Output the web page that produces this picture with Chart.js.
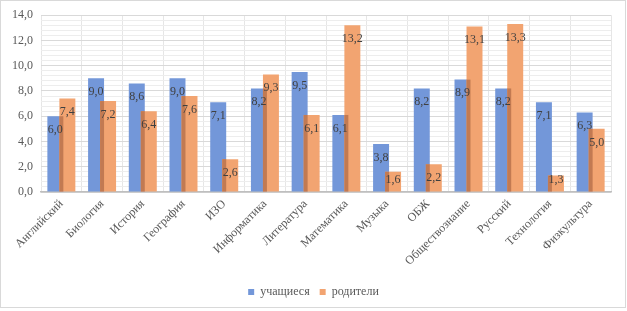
<!DOCTYPE html>
<html lang="ru">
<head>
<meta charset="utf-8">
<title>Оценки предметов</title>
<script src="https://cdn.jsdelivr.net/npm/chart.js@4/dist/chart.umd.min.js"></script>
<style>
  html, body { margin: 0; padding: 0; background: #fff; }
  #wrap { position: relative; width: 627px; height: 311px; }
</style>
</head>
<body>
<div id="wrap"><canvas id="chart" width="627" height="311"></canvas></div>
<script>
// данные
const subjects = ['Английский', 'Биология', 'История', 'География', 'ИЗО', 'Информатика', 'Литература',
  'Математика', 'Музыка', 'ОБЖ', 'Обществознание', 'Русский', 'Технология', 'Физкультура'];
const students = [6.0, 9.0, 8.6, 9.0, 7.1, 8.2, 9.5, 6.1, 3.8, 8.2, 8.9, 8.2, 7.1, 6.3];
const parents = [7.4, 7.2, 6.4, 7.6, 2.6, 9.3, 6.1, 13.2, 1.6, 2.2, 13.1, 13.3, 1.3, 5.0];
const seriesNames = ['учащиеся', 'родители'];

const serif = 'Liberation Serif';

// рамка вокруг всей диаграммы
const frame = {
  id: 'frame',
  beforeDraw(chart) {
    const ctx = chart.ctx;
    ctx.save();
    ctx.strokeStyle = '#d9d9d9';
    ctx.lineWidth = 1;
    ctx.strokeRect(0.5, 0.5, 625, 307);
    ctx.restore();
  }
};

// синие столбцы первыми, оранжевые поверх
const drawOrder = {
  id: 'drawOrder',
  beforeDatasetsDraw(chart) {
    chart._drawDataset(chart.getDatasetMeta(0));
    chart._drawDataset(chart.getDatasetMeta(1));
    return false;
  },
  afterDraw(chart) {
    const ctx = chart.ctx;
    const a = chart.getDatasetMeta(0), b = chart.getDatasetMeta(1);
    ctx.save();
    // тень там, где оранжевый столбец перекрывает синий
    ctx.fillStyle = '#c27a52';
    a.data.forEach((blue, j) => {
      const p = blue.getProps(['x', 'y', 'base', 'width'], true);
      const q = b.data[j].getProps(['x', 'y', 'width'], true);
      const x0 = q.x - q.width / 2;
      const x1 = p.x + p.width / 2;
      const top = Math.max(p.y, q.y);
      if (x1 > x0) ctx.fillRect(x0, top, x1 - x0, p.base - top);
    });
    // подписи значений внутри столбцов
    ctx.font = '12px "' + serif + '"';
    ctx.fillStyle = '#404040';
    ctx.textAlign = 'center';
    ctx.textBaseline = 'middle';
    chart.data.datasets.forEach((ds, i) => {
      chart.getDatasetMeta(i).data.forEach((bar, j) => {
        const y = Math.min(bar.y + 13.5, bar.base - 12);
        ctx.fillText(ds.data[j].toFixed(1).replace('.', ','), bar.x, y);
      });
    });
    ctx.restore();
  }
};

const isMajor = v => Math.abs(v / 2 - Math.round(v / 2)) < 1e-6;

new Chart(document.getElementById('chart'), {
  type: 'bar',
  data: {
    labels: subjects,
    datasets: [
      {
        label: seriesNames[0],
        data: students,
        backgroundColor: '#7397d9',
        borderWidth: 0,
        categoryPercentage: 0.59,
        barPercentage: 1.33
      },
      {
        label: seriesNames[1],
        data: parents,
        backgroundColor: '#f2a471',
        borderWidth: 0,
        categoryPercentage: 0.59,
        barPercentage: 1.33
      }
    ]
  },
  options: {
    responsive: false,
    animation: false,
    layout: { padding: { top: 10, right: 0, bottom: 3, left: 0 } },
    scales: {
      x: {
        grid: { color: '#e6e6e6', drawTicks: false },
        border: { color: '#bfbfbf', width: 1.5 },
        ticks: {
          color: '#595959',
          font: { family: serif, size: 12 },
          minRotation: 45,
          maxRotation: 45,
          autoSkip: false,
          padding: 5
        },
        afterFit(scale) { scale.height = 84; }
      },
      y: {
        min: 0,
        max: 14,
        border: { display: false },
        grid: {
          drawTicks: false,
          color: ctx => (isMajor(ctx.tick.value) ? '#d9d9d9' : '#ededed')
        },
        ticks: {
          stepSize: 0.4,
          autoSkip: false,
          color: '#595959',
          font: { family: serif, size: 12 },
          padding: 8,
          callback: v => (isMajor(v) ? v.toFixed(1).replace('.', ',') : '')
        },
        afterFit(scale) { scale.width = 41; }
      },
      // пустое поле справа, чтобы легенда стояла по центру всей диаграммы
      right: {
        position: 'right',
        grid: { display: false },
        border: { display: false },
        ticks: { display: false },
        afterFit(scale) { scale.width = 16; }
      }
    },
    plugins: {
      legend: {
        position: 'bottom',
        labels: {
          color: '#595959',
          font: { family: serif, size: 12 },
          boxWidth: 6,
          boxHeight: 6,
          padding: 10
        }
      },
      tooltip: { enabled: false }
    }
  },
  plugins: [frame, drawOrder]
});
</script>
</body>
</html>
